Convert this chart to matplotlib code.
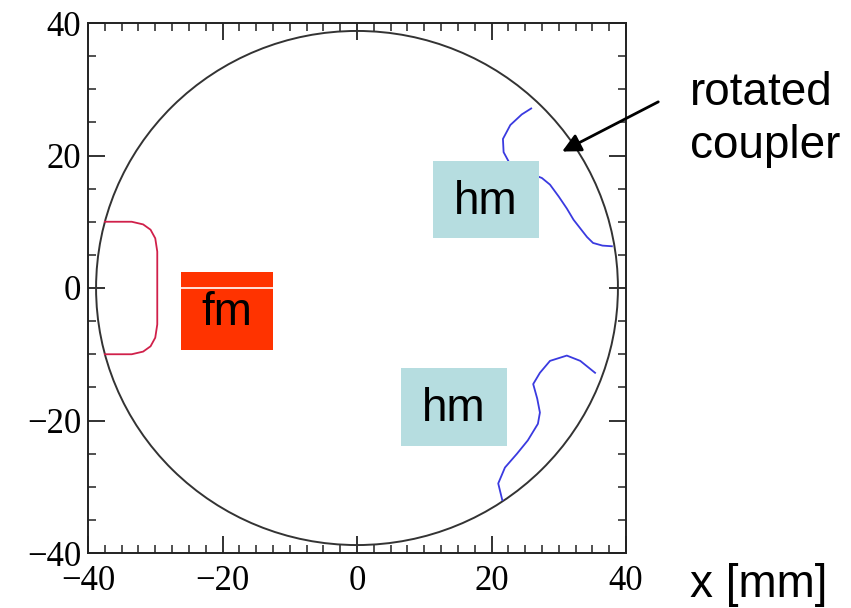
import matplotlib
matplotlib.use("Agg")
import matplotlib.pyplot as plt
from matplotlib.patches import Circle, Rectangle
from matplotlib.ticker import MultipleLocator

# ---- data ----
circle_radius = 38.8

red_x = [-37.5, -33.5, -31.8, -30.7, -30.0, -29.7, -29.7, -30.0, -30.7, -31.8, -33.5, -37.5]
red_y = [10.0, 10.0, 9.6, 8.8, 7.5, 5.5, -5.5, -7.5, -8.8, -9.6, -10.0, -10.0]

blue_up_x = [25.9, 24.5, 22.8, 21.7, 21.8, 22.6, 24.0, 26.0, 27.5, 28.7, 30.0, 31.2, 32.2, 33.2, 34.2, 35.1, 36.5, 37.9]
blue_up_y = [27.1, 26.2, 24.6, 22.5, 20.5, 19.0, 17.8, 17.2, 16.6, 15.6, 13.8, 12.0, 10.3, 9.0, 7.7, 6.8, 6.4, 6.3]

blue_lo_x = [21.6, 21.0, 22.0, 23.8, 25.4, 26.9, 27.2, 26.8, 26.2, 27.2, 28.7, 31.2, 33.2, 35.4]
blue_lo_y = [-32.0, -29.5, -27.1, -25.0, -23.0, -20.5, -18.8, -16.7, -14.5, -12.8, -11.0, -10.2, -11.0, -12.8]

# boxes: (label, x0, y0, x1, y1, color)
boxes = [
    ("hm", 11.3, 7.5, 27.1, 19.2, "#b6dde0"),
    ("hm", 6.5, -23.8, 22.3, -12.0, "#b6dde0"),
    ("fm", -26.2, -9.3, -12.5, 2.4, "#ff3300"),
]

ticks_major = [-40, -20, 0, 20, 40]
tick_labels = ["\u221240", "\u221220", "0", "20", "40"]

# ---- figure ----
fig = plt.figure(figsize=(8.51, 6.08), dpi=100)
ax = fig.add_axes([88 / 851, 1 - 553 / 608, 538 / 851, 530 / 608])
ax.set_xlim(-40, 40)
ax.set_ylim(-40, 40)

ax.add_patch(Circle((0, 0), circle_radius, fill=False, edgecolor="#333333", lw=1.4, zorder=2))
ax.plot(red_x, red_y, color="#d0204a", lw=1.3, zorder=3)
ax.plot(blue_up_x, blue_up_y, color="#3a3ae0", lw=1.3, zorder=3)
ax.plot(blue_lo_x, blue_lo_y, color="#3a3ae0", lw=1.3, zorder=3)

for label, x0, y0, x1, y1, col in boxes:
    ax.add_patch(Rectangle((x0, y0), x1 - x0, y1 - y0, facecolor=col, edgecolor="none", zorder=5))
    ax.text((x0 + x1) / 2, (y0 + y1) / 2 - 0.3, label, ha="center", va="center",
            fontsize=33, family="Liberation Sans", color="black", zorder=6)
# white line across fm box
ax.plot([boxes[2][1], boxes[2][3]], [0, 0], color="white", lw=1.2, zorder=5.5)

for s in ax.spines.values():
    s.set_linewidth(1.4)
    s.set_color("#222222")

ax.set_xticks(ticks_major)
ax.set_xticklabels(tick_labels)
ax.set_yticks(ticks_major)
ax.set_yticklabels(tick_labels)
ax.xaxis.set_minor_locator(MultipleLocator(2.5))
ax.yaxis.set_minor_locator(MultipleLocator(5))
ax.tick_params(which="both", direction="in", top=True, right=True, color="#222222")
ax.tick_params(which="major", length=12, width=1.3, labelsize=25)
ax.tick_params(axis="x", which="major", pad=9)
ax.tick_params(axis="y", which="major", pad=5)
ax.tick_params(which="minor", length=6, width=1.1)
for lab in ax.get_xticklabels() + ax.get_yticklabels():
    lab.set_family("Liberation Serif")

ax.annotate("", xy=(30.5, 20.6), xytext=(44.8, 28.1), xycoords="data", textcoords="data",
            annotation_clip=False,
            arrowprops=dict(arrowstyle="-|>", lw=2, color="black", mutation_scale=28,
                            shrinkA=0, shrinkB=0))

fig.text(690 / 851, 1 - 105 / 608, "rotated", fontsize=33, family="Liberation Sans",
         ha="left", va="baseline")
fig.text(690 / 851, 1 - 158 / 608, "coupler", fontsize=33, family="Liberation Sans",
         ha="left", va="baseline")
fig.text(690 / 851, 1 - 597 / 608, "x [mm]", fontsize=33, family="Liberation Sans",
         ha="left", va="baseline")

fig.savefig("out.png", dpi=100)
